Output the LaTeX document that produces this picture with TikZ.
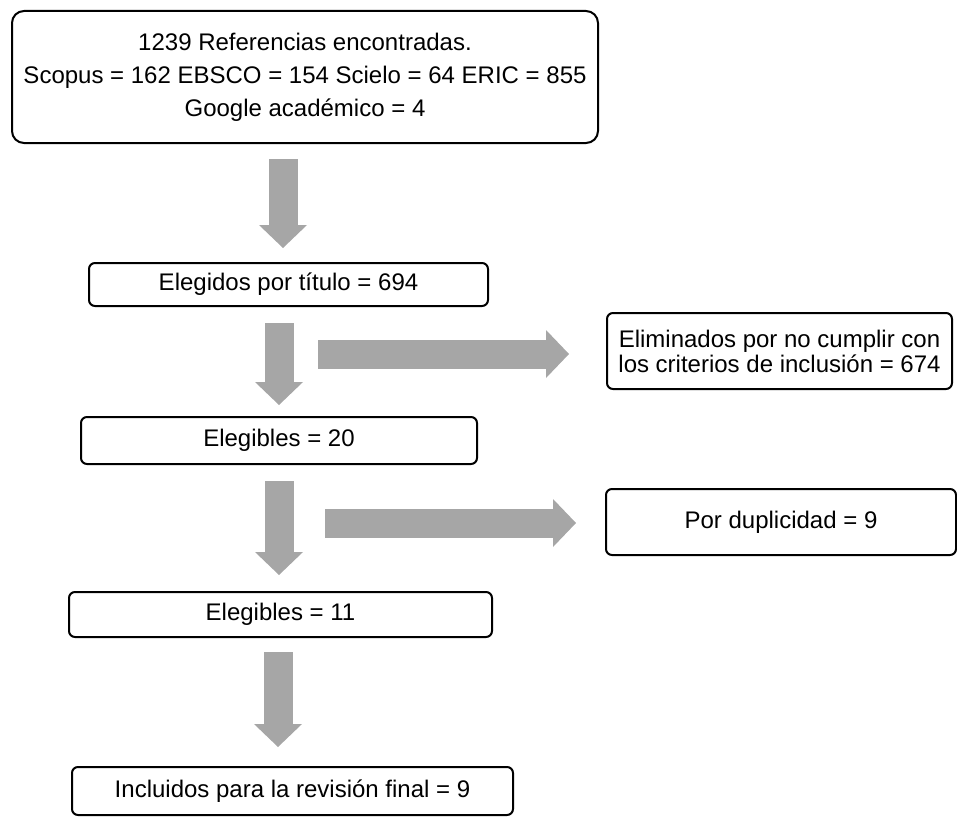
\documentclass[tikz,border=0pt]{standalone}
\usepackage{fontspec}
\setmainfont{Liberation Sans}
\definecolor{arrowgray}{RGB}{166,166,166}
\usetikzlibrary{arrows.meta, calc, positioning}

\begin{document}
\begin{tikzpicture}[x=1pt, y=-1pt,
    box/.style={rectangle, draw=black, fill=white, line width=2pt, rounded corners=6pt, align=center, inner sep=0pt, font=\fontsize{24}{29}\selectfont},
    bigarrow/.style={draw=arrowgray, line width=29pt, -{Triangle[width=48pt, length=23pt, line width=0pt]}}]
    \useasboundingbox (0,0) rectangle (957,816);
    % Search result box
    \node[box, rounded corners=12pt, minimum width=586pt, minimum height=132pt, font=\fontsize{24}{33}\selectfont] (found) at (305,77) {
        1239 Referencias encontradas.\\
        Scopus = 162 EBSCO = 154 Scielo = 64 ERIC = 855\\
        Google académico = 4
    };
    % Screening steps
    \node[box, minimum width=399pt, minimum height=43pt] (title) at (288.5,284.5) {Elegidos por título = 694};
    \node[box, minimum width=345pt, minimum height=76pt, font=\fontsize{24}{25}\selectfont] (excluded) at (779.5,351) {Eliminados por no cumplir con\\los criterios de inclusión = 674};
    \node[box, minimum width=396pt, minimum height=47pt] (elig20) at (279,440.5) {Elegibles = 20};
    \node[box, minimum width=350pt, minimum height=66pt] (dupl) at (781,522) {Por duplicidad = 9};
    \node[box, minimum width=423pt, minimum height=45pt] (elig11) at (280.5,614.5) {Elegibles = 11};
    \node[box, minimum width=441pt, minimum height=48pt] (final) at (292.5,791) {Incluidos para la revisión final = 9};
    % Block arrows
    \draw[bigarrow] ($(found.south)+(-22,15)$) -- ($(title.north)+(-5.5,-14)$);
    \draw[bigarrow] ($(title.south)+(-9.5,16)$) -- ($(elig20.north)+(0,-11)$);
    \draw[bigarrow] ($(excluded.west)+(-288,3)$) -- ($(excluded.west)+(-37,3)$);
    \draw[bigarrow] ($(elig20.south)+(0,16)$) -- ($(elig11.north)+(-1.5,-16)$);
    \draw[bigarrow] ($(dupl.west)+(-280,1)$) -- ($(dupl.west)+(-29,1)$);
    \draw[bigarrow] ($(elig11.south)+(-2.5,14)$) -- ($(final.north)+(-14.5,-19)$);
\end{tikzpicture}
\end{document}
